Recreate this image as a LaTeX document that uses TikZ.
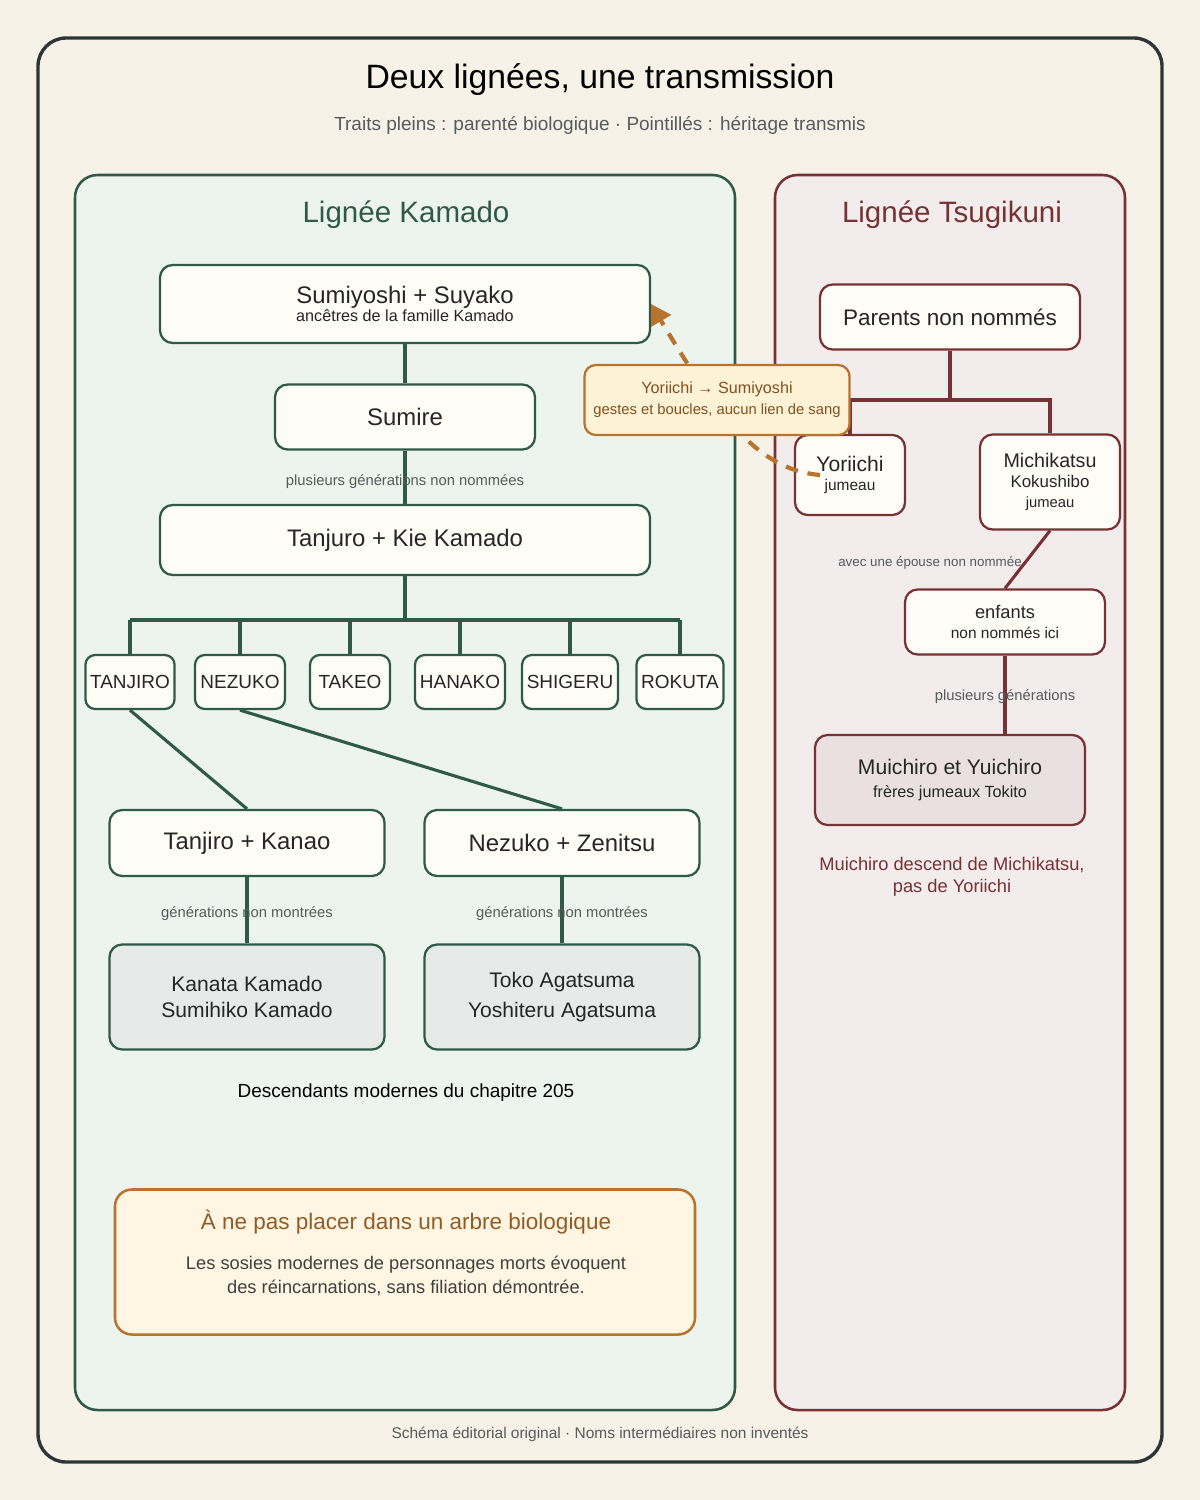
\documentclass[tikz,border=0pt]{standalone}
\usepackage{fontspec}
\setmainfont{Liberation Sans}
\usetikzlibrary{positioning,arrows.meta,calc}
\definecolor{paper}{HTML}{F7F2E7}
\definecolor{frame}{HTML}{2E3538}
\definecolor{kgreen}{HTML}{2F5A48}
\definecolor{kfill}{HTML}{EDF4EE}
\definecolor{tred}{HTML}{763234}
\definecolor{tfill}{HTML}{F3ECEC}
\definecolor{boxfill}{HTML}{FDFCF7}
\definecolor{ochre}{HTML}{B8732F}
\definecolor{callfill}{HTML}{FDF1D6}
\definecolor{inkgray}{HTML}{555B5E}
\newcommand{\fsz}[1]{\fontsize{#1}{#1*1.2}\selectfont}
\tikzset{
  kbox/.style={draw=kgreen, line width=1.6pt, fill=boxfill, rounded corners=9pt, align=center, text=black!85},
  tbox/.style={draw=tred, line width=1.6pt, fill=boxfill, rounded corners=9pt, align=center, text=black!85},
  kline/.style={draw=kgreen, line width=2.2pt},
  tline/.style={draw=tred, line width=2.2pt},
  gen/.style={text=inkgray, font=\fsz{10.5pt}},
}
\begin{document}
\begin{tikzpicture}[x=0.025cm, y=-0.025cm]
  \useasboundingbox (0,0) rectangle (1200,1500);
  \fill[paper] (0,0) rectangle (1200,1500);
  % frame and panels
  \draw[frame, line width=2.4pt, fill=paper, rounded corners=20pt] (38,38) rectangle (1162,1462);
  \node (title) at (600,80) {\fsz{24pt}Deux lignées, une transmission};
  \node[text=inkgray] (subtitle) at (600,125) {\fsz{13.5pt}Traits pleins : parenté biologique · Pointillés : héritage transmis};
  \draw[kgreen, line width=1.8pt, fill=kfill, rounded corners=16pt] (75,175) rectangle (735,1410);
  \draw[tred, line width=1.8pt, fill=tfill, rounded corners=16pt] (775,175) rectangle (1125,1410);
  \node[text=kgreen] (ktitle) at (406,215) {\fsz{21pt}Lignée Kamado};
  \node[text=tred] (ttitle) at (952,215) {\fsz{21pt}Lignée Tsugikuni};

  % Kamado lineage
  \node[kbox, minimum width=490*0.025cm, minimum height=78*0.025cm] (sumiyoshi) at (405,304)
    {\fsz{17pt}Sumiyoshi + Suyako\\[1pt]\fsz{11.5pt}ancêtres de la famille Kamado};
  \node[kbox, minimum width=260*0.025cm, minimum height=65*0.025cm] (sumire) at (405,417) {\fsz{17pt}Sumire};
  \node[kbox, minimum width=490*0.025cm, minimum height=70*0.025cm] (tanjuro) at (405,540) {\fsz{17pt}Tanjuro + Kie Kamado};
  \draw[kline] (sumiyoshi.south) -- (sumire.north);
  \draw[kline] (sumire.south) -- (tanjuro.north);
  \node[gen] (gen1) at (405,482) {plusieurs générations non nommées};

  \coordinate (bus) at (405,620);
  \draw[kline] (tanjuro.south) -- (bus);
  \draw[kline] (130,620) -- (680,620);
  \foreach \name/\x/\w in {tanjiro/130/80, nezuko/240/90, takeo/350/80, hanako/460/90, shigeru/570/90, rokuta/680/80}{
    \node[kbox, rounded corners=7pt, minimum width=\w*0.025cm, minimum height=54*0.025cm] (\name) at (\x,682) {\fsz{13.5pt}\MakeUppercase\name};
  }
  \foreach \name/\x in {tanjiro/130, nezuko/240, takeo/350, hanako/460, shigeru/570, rokuta/680}
    \draw[kline] (\x,620) -- (\name.north);

  \node[kbox, minimum width=275*0.025cm, minimum height=66*0.025cm] (kanao) at (247,843) {\fsz{17pt}Tanjiro + Kanao};
  \node[kbox, minimum width=275*0.025cm, minimum height=66*0.025cm] (zenitsu) at (562,843) {\fsz{17pt}Nezuko + Zenitsu};
  \draw[kline] (tanjiro.south) -- (kanao.north);
  \draw[kline] (nezuko.south) -- (zenitsu.north);

  \node[kbox, fill=kgreen!12, minimum width=275*0.025cm, minimum height=105*0.025cm] (kanata) at (247,997)
    {\fsz{15pt}Kanata Kamado\\[6pt]\fsz{15pt}Sumihiko Kamado};
  \node[kbox, fill=kgreen!12, minimum width=275*0.025cm, minimum height=105*0.025cm] (toko) at (562,997)
    {\fsz{15pt}Toko Agatsuma\\[6pt]\fsz{15pt}Yoshiteru Agatsuma};
  \draw[kline] (kanao.south) -- (kanata.north);
  \draw[kline] (zenitsu.south) -- (toko.north);
  \node[gen] (gen2) at (247,914) {générations non montrées};
  \node[gen] (gen3) at (562,914) {générations non montrées};
  \node (modern) at (406,1093) {\fsz{13.5pt}Descendants modernes du chapitre 205};

  \node[draw=ochre, line width=1.8pt, fill=callfill!70, rounded corners=12pt, minimum width=580*0.025cm, minimum height=145*0.025cm] (warn) at (405,1262) {};
  \node[text=ochre!80!black] (warntitle) at (406,1222) {\fsz{16pt}À ne pas placer dans un arbre biologique};
  \node[text=black!75, align=center] (warntext) at (406,1276) {\fsz{13pt}Les sosies modernes de personnages morts évoquent\\[4pt]\fsz{13pt}des réincarnations, sans filiation démontrée.};

  % Tsugikuni lineage
  \node[tbox, minimum width=260*0.025cm, minimum height=65*0.025cm] (parents) at (950,317) {\fsz{16pt}Parents non nommés};
  \node[tbox, minimum width=110*0.025cm, minimum height=80*0.025cm] (yoriichi) at (850,475)
    {\fsz{15pt}Yoriichi\\[2pt]\fsz{11pt}jumeau};
  \node[tbox, minimum width=140*0.025cm, minimum height=95*0.025cm] (michikatsu) at (1050,482)
    {\fsz{14pt}Michikatsu\\[2pt]\fsz{12pt}Kokushibo\\[2pt]\fsz{10.5pt}jumeau};
  \coordinate (tbus) at (950,400);
  \draw[tline] (parents.south) -- (tbus);
  \draw[tline] (yoriichi.north) |- (tbus) -| (michikatsu.north);
  \node[gen, font=\fsz{9.5pt}] (spouse) at (930,563) {avec une épouse non nommée};
  \node[tbox, minimum width=200*0.025cm, minimum height=65*0.025cm] (enfants) at (1005,622)
    {\fsz{13pt}enfants\\[2pt]\fsz{11pt}non nommés ici};
  \draw[tline] (michikatsu.south) -- (enfants.north);
  \node[tbox, fill=tred!15, minimum width=270*0.025cm, minimum height=90*0.025cm] (muichiro) at (950,780)
    {\fsz{15pt}Muichiro et Yuichiro\\[4pt]\fsz{11.5pt}frères jumeaux Tokito};
  \draw[tline] (enfants.south) -- (muichiro.north -| enfants.south);
  \node[gen] (gen4) at (1005,697) {plusieurs générations};
  \node[text=tred, align=center] (note) at (952,877) {\fsz{13pt}Muichiro descend de Michikatsu,\\[4pt]\fsz{13pt}pas de Yoriichi};

  % transmitted heritage
  \draw[ochre, line width=3pt, dash pattern=on 9pt off 7pt, -{Triangle[length=14pt,width=16pt]}]
    ([xshift=-30*0.025cm]yoriichi.center) .. controls (760,470) and (720,420) .. (sumiyoshi.east);
  \node[draw=ochre, line width=1.6pt, fill=callfill, rounded corners=8pt, minimum width=265*0.025cm, minimum height=70*0.025cm, align=center, text=ochre!70!black] (callout) at (717,400)
    {\fsz{11.5pt}Yoriichi → Sumiyoshi\\[3pt]\fsz{10.5pt}gestes et boucles, aucun lien de sang};

  \node[text=inkgray] (footer) at (600,1434) {\fsz{11pt}Schéma éditorial original · Noms intermédiaires non inventés};
\end{tikzpicture}
\end{document}
